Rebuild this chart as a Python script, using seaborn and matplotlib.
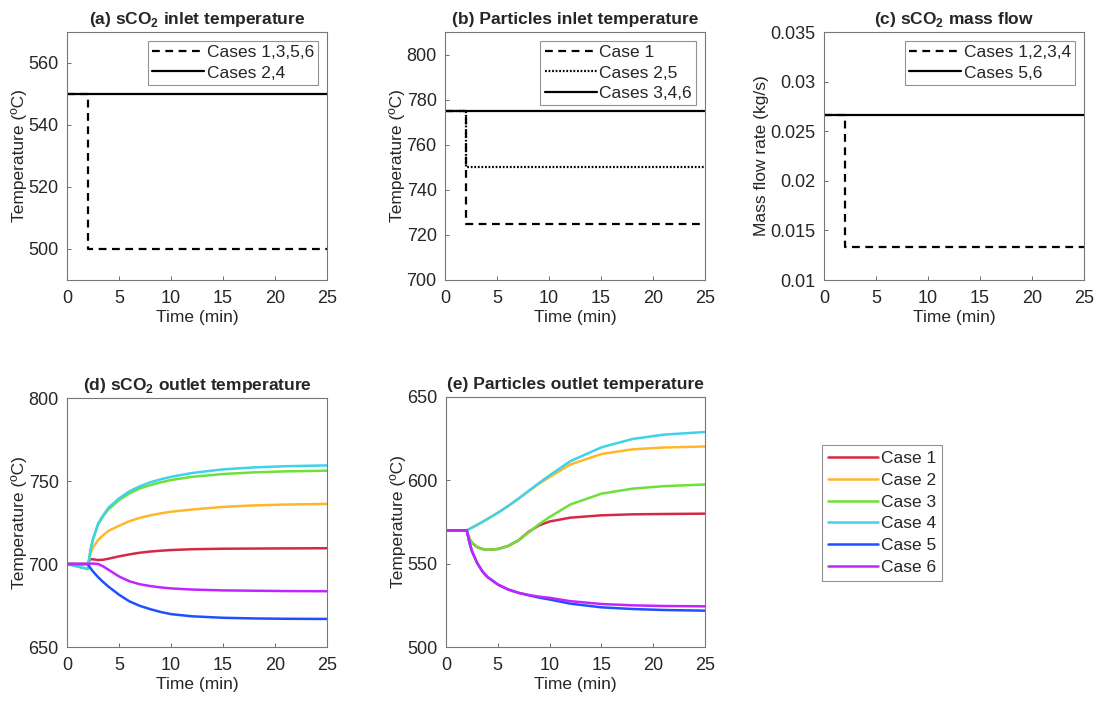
import numpy as np
import pandas as pd
import matplotlib
matplotlib.use("Agg")
import matplotlib.pyplot as plt
import seaborn as sns

# ---- data ----
# inlet step changes at t = 2 min
t_step = [0, 2, 2, 25]
a_case1356 = [550, 550, 500, 500]
a_case24 = [550, 550, 550, 550]
b_case1 = [775, 775, 725, 725]
b_case25 = [775, 775, 750, 750]
b_case346 = [775, 775, 775, 775]
c_case1234 = [0.02667, 0.02667, 0.01333, 0.01333]
c_case56 = [0.02667, 0.02667, 0.02667, 0.02667]

# outlet responses
t_out = [0, 2, 2.25, 2.5, 3, 3.5, 4, 5, 6, 7, 8, 9, 10, 12, 15, 18, 21, 25]
d_out = {
    "Case 1": [700, 700, 703, 702.8, 702.4, 702.6, 703.2, 704.6, 705.8, 706.8, 707.5, 708, 708.4, 708.9, 709.2, 709.3, 709.4, 709.5],
    "Case 2": [700, 700, 706, 710, 714.5, 717.5, 720, 723, 725.8, 727.8, 729.3, 730.5, 731.5, 732.8, 734.4, 735.3, 735.8, 736.2],
    "Case 3": [700, 697, 708, 715, 724, 729, 733, 738.5, 742.5, 745.5, 747.5, 749.2, 750.6, 752.5, 754.2, 755.2, 755.8, 756.2],
    "Case 4": [700, 697, 708, 715, 724.5, 729.5, 734, 739.5, 743.8, 746.8, 749.2, 751, 752.5, 754.8, 757, 758.2, 758.9, 759.4],
    "Case 5": [700, 700, 697.5, 695.5, 692, 689, 686.3, 681.5, 677.5, 674.8, 672.8, 671.1, 669.8, 668.5, 667.6, 667.2, 667, 666.9],
    "Case 6": [700, 700, 700.2, 700.3, 700, 698.5, 696.5, 692.5, 689.6, 687.8, 686.7, 685.9, 685.3, 684.6, 684.1, 683.9, 683.7, 683.6],
}
e_out = {
    "Case 1": [570, 570, 565, 562.5, 560, 558.8, 558.3, 558.8, 560.6, 564, 569.2, 573, 575.3, 577.6, 579, 579.6, 579.8, 580],
    "Case 2": [570, 570, 570.8, 571.6, 573.3, 575, 576.8, 580.5, 584.6, 589, 593.6, 598, 602, 609.5, 615.8, 618.6, 619.7, 620.3],
    "Case 3": [570, 570, 565, 562.5, 560, 558.8, 558.3, 558.8, 560.6, 564, 568.8, 573.8, 578, 585.5, 592, 595, 596.5, 597.5],
    "Case 4": [570, 570, 570.8, 571.6, 573.3, 575, 576.8, 580.5, 584.6, 589, 593.8, 598.5, 603, 611.5, 619.8, 624.8, 627.4, 629],
    "Case 5": [570, 570, 563, 557.5, 550.5, 545.5, 542, 537.5, 534.5, 532.5, 531, 529.6, 528.5, 526, 523.8, 522.8, 522.2, 521.8],
    "Case 6": [570, 570, 563, 557.5, 550.5, 545.5, 542, 537.5, 534.5, 532.5, 531.2, 530.2, 529.5, 527.5, 525.8, 525, 524.6, 524.4],
}
case_colors = ["#D42A45", "#FFB72A", "#6EE03C", "#3ED3E8", "#1E50FF", "#C224FF"]

sns.set_theme(style="white")
plt.rcParams["font.family"] = ["Liberation Sans", "DejaVu Sans"]
plt.rcParams["mathtext.fontset"] = "custom"
plt.rcParams["mathtext.rm"] = "Liberation Sans"
plt.rcParams["mathtext.bf"] = "Liberation Sans:bold"

fig = plt.figure(figsize=(11.01, 7.02), dpi=100)
W, H = 1101, 702


def make_ax(l, t, r, b):
    return fig.add_axes([l / W, 1 - b / H, (r - l) / W, (b - t) / H])


ax_a = make_ax(67, 32, 327, 280)
ax_b = make_ax(445, 32, 705, 280)
ax_c = make_ax(824, 32, 1084, 280)
ax_d = make_ax(67, 398, 327, 647)
ax_e = make_ax(446, 397, 705, 647)

lw = 1.6
kw = dict(color="black", lw=lw, sort=False, estimator=None, errorbar=None)
sns.lineplot(x=t_step, y=a_case1356, ax=ax_a, linestyle=(0, (3.5, 2.5)), label="Cases 1,3,5,6", **kw)
sns.lineplot(x=t_step, y=a_case24, ax=ax_a, label="Cases 2,4", **kw)

sns.lineplot(x=t_step, y=b_case1, ax=ax_b, linestyle=(0, (3.5, 2.5)), label="Case 1", **kw)
sns.lineplot(x=t_step, y=b_case25, ax=ax_b, linestyle=(0, (0.8, 0.8)), label="Cases 2,5", **kw)
sns.lineplot(x=t_step, y=b_case346, ax=ax_b, label="Cases 3,4,6", **kw)

sns.lineplot(x=t_step, y=c_case1234, ax=ax_c, linestyle=(0, (3.5, 2.5)), label="Cases 1,2,3,4", **kw)
sns.lineplot(x=t_step, y=c_case56, ax=ax_c, label="Cases 5,6", **kw)

for (name, vals), col in zip(d_out.items(), case_colors):
    sns.lineplot(x=t_out, y=vals, ax=ax_d, color=col, lw=1.8, legend=False,
                 estimator=None, errorbar=None)
for (name, vals), col in zip(e_out.items(), case_colors):
    sns.lineplot(x=t_out, y=vals, ax=ax_e, color=col, lw=1.8, label=name,
                 estimator=None, errorbar=None)

fs = 12.5
titles = [
    (ax_a, r"(a) sCO$_\mathbf{2}$ inlet temperature", (490, 570), np.arange(500, 561, 20), "Temperature (ºC)"),
    (ax_b, "(b) Particles inlet temperature", (700, 810), np.arange(700, 801, 20), "Temperature (ºC)"),
    (ax_c, r"(c) sCO$_\mathbf{2}$ mass flow", (0.01, 0.035), np.arange(0.01, 0.0351, 0.005), "Mass flow rate (kg/s)"),
    (ax_d, r"(d) sCO$_\mathbf{2}$ outlet temperature", (650, 800), np.arange(650, 801, 50), "Temperature (ºC)"),
    (ax_e, "(e) Particles outlet temperature", (500, 650), np.arange(500, 651, 50), "Temperature (ºC)"),
]
for ax, title, ylim, yt, ylab in titles:
    ax.set_title(title, fontweight="bold", fontsize=fs, pad=6)
    ax.set_xlim(0, 25)
    ax.set_ylim(*ylim)
    ax.set_xticks(np.arange(0, 26, 5))
    ax.set_yticks(yt)
    ax.set_xlabel("Time (min)", fontsize=fs, labelpad=2)
    ax.set_ylabel(ylab, fontsize=fs, labelpad=1)
    ax.tick_params(direction="in", length=3, width=0.6, color="#555555", labelsize=13,
                   bottom=True, left=True)
    ax.tick_params(axis="x", pad=7)
    ax.tick_params(axis="y", pad=6)
    for s in ax.spines.values():
        s.set_color("#777777")
        s.set_linewidth(0.8)

ax_c.set_yticklabels(["0.01", "0.015", "0.02", "0.025", "0.03", "0.035"])

leg_kw = dict(fontsize=fs, frameon=True, fancybox=False, edgecolor="#777777",
              handlelength=3.0, handletextpad=0.15, borderpad=0.25, labelspacing=0.3,
              borderaxespad=0.5)
for ax in (ax_a, ax_b, ax_c):
    lg = ax.legend(loc="upper right", **leg_kw)
    lg.get_frame().set_linewidth(0.8)

# legend for bottom row sits to the right of panel (e)
h, l = ax_e.get_legend_handles_labels()
ax_e.get_legend().remove()
lg = fig.legend(h, l, loc="upper left", bbox_to_anchor=(822 / W, 1 - 445 / H),
                borderaxespad=0, fontsize=fs, frameon=True, fancybox=False, edgecolor="#777777",
                handlelength=2.9, handletextpad=0.15, borderpad=0.35, labelspacing=0.38)
lg.get_frame().set_linewidth(0.8)

fig.savefig("out.png", dpi=100, facecolor="white")
